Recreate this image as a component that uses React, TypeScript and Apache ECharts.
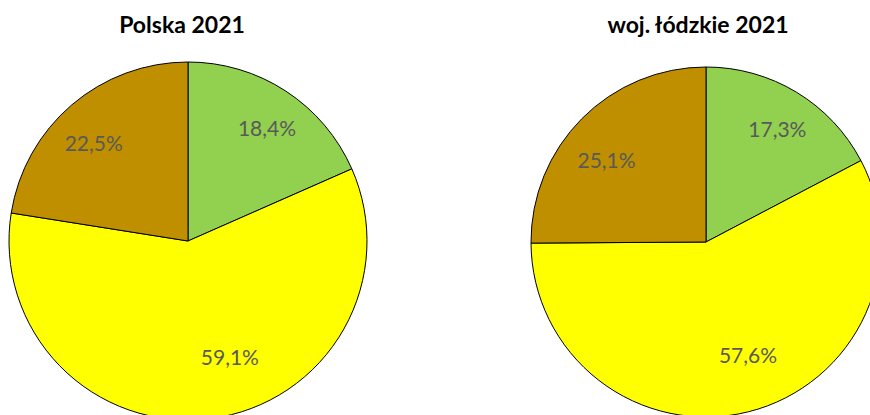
import React, { useEffect, useRef } from "react";
import * as echarts from "echarts";

const categories = ["A", "B", "C"];
const colors = ["#92D050", "#FFFF00", "#BF8F00"];
const polskaValues = [18.4, 59.1, 22.5];
const lodzkieValues = [17.3, 57.6, 25.1];
const titles = ["Polska 2021", "woj. łódzkie 2021"];

const fmt = (v: number) => v.toFixed(1).replace(".", ",") + "%";

export default function App() {
  const ref = useRef<HTMLDivElement>(null);
  useEffect(() => {
    if (!ref.current) return;
    const chart = echarts.init(ref.current, null, { renderer: "svg" });
    const mk = (vals: number[]) =>
      vals.map((v, i) => ({ name: categories[i], value: v, itemStyle: { color: colors[i] } }));
    const pies = [
      { vals: polskaValues, center: [188, 241], r: 179, offsets: [[3, 3], [24, -22], [-4, 7]] },
      { vals: lodzkieValues, center: [706, 242], r: 175, offsets: [[1, 3], [9, -19], [-3, 13]] },
    ];
    const series: any[] = [];
    pies.forEach((p) => {
      series.push({
        type: "pie",
        center: p.center,
        radius: [0, p.r],
        startAngle: 90,
        clockwise: true,
        silent: true,
        label: { show: false },
        labelLine: { show: false },
        itemStyle: { borderColor: "#000", borderWidth: 1 },
        data: mk(p.vals),
      });
      series.push({
        type: "pie",
        center: p.center,
        radius: [p.r * 0.52, p.r],
        startAngle: 90,
        clockwise: true,
        silent: true,
        itemStyle: { color: "transparent", borderWidth: 0 },
        label: {
          show: true,
          position: "inside",
          formatter: (d: any) => fmt(d.value),
          color: "#595959",
          fontSize: 21,
          fontFamily: "Lato",
        },
        labelLine: { show: false },
        data: mk(p.vals).map((d, i) => ({
          ...d,
          itemStyle: { color: "transparent" },
          label: { offset: p.offsets[i] },
        })),
      });
    });
    chart.setOption({
      animation: false,
      backgroundColor: "#fff",
      title: [
        { text: titles[0], left: 177, top: 7, textAlign: "center" },
        { text: titles[1], left: 693, top: 7, textAlign: "center" },
      ].map((t) => ({
        ...t,
        textStyle: { fontFamily: "Lato", fontWeight: "bold", fontSize: 23, color: "#000" },
      })),
      series,
    });
    return () => chart.dispose();
  }, []);
  return (
    <div
      ref={ref}
      style={{ position: "absolute", left: 0, top: 0, width: 870, height: 415 }}
    />
  );
}
